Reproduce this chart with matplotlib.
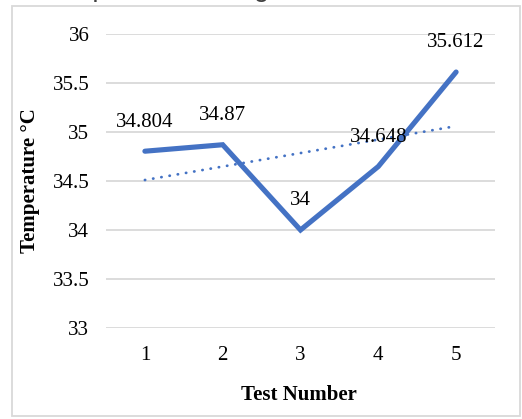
import matplotlib.pyplot as plt
from matplotlib.patches import Rectangle

# readings per test
tests = [1, 2, 3, 4, 5]
temps = [34.804, 34.87, 34.0, 34.648, 35.612]
# linear trendline end points as drawn in the chart
trend_x = [1, 5]
trend_y = [34.51, 35.06]

W, H = 522, 419
fig = plt.figure(figsize=(W / 100, H / 100), dpi=100)
serif = "Liberation Serif"
blue = "#4472C4"
fs = 15

ax = fig.add_axes([106 / W, 1 - 328 / H, (495 - 106) / W, (328 - 34) / H])
ax.plot(tests, temps, color=blue, lw=3.7, solid_joinstyle="miter", solid_capstyle="round", zorder=3)
ax.plot(trend_x, trend_y, color=blue, lw=2.0, linestyle=(0, (0.1, 2.9)), dash_capstyle="round", zorder=2)

for x, y in zip(tests, temps):
    ax.annotate(f"{y:g}", (x, y), xytext=(0, 21), textcoords="offset points",
                ha="center", va="center", family=serif, fontsize=fs, color="black", zorder=4)

ax.set_xlim(0.5, 5.5)
ax.set_ylim(33, 36)
ax.set_xticks(tests)
ax.set_yticks([33, 33.5, 34, 34.5, 35, 35.5, 36])
ax.set_yticklabels(["33", "33.5", "34", "34.5", "35", "35.5", "36"])
ax.grid(axis="y", color="#d9d9d9", lw=1.3)
ax.set_axisbelow(True)
for s in ax.spines.values():
    s.set_visible(False)
ax.tick_params(length=0, labelsize=fs, colors="black")
ax.tick_params(axis="y", pad=12)
ax.tick_params(axis="x", pad=13)
for lab in ax.get_xticklabels() + ax.get_yticklabels():
    lab.set_family(serif)

fig.text(299 / W, 1 - 395 / H, "Test Number", ha="center", va="center",
         family=serif, fontsize=fs, fontweight="bold")
fig.text(30 / W, 1 - 181 / H, "Temperature °C", ha="center", va="center", rotation=90,
         family=serif, fontsize=fs, fontweight="bold")

# chart title, mostly cut off above the picture
title = fig.text(40 / W, 1 + 4 / H, "Temperature Range Across All Tests", ha="left", va="baseline",
                 family="Liberation Sans", fontsize=20, color="#404040")

fig.patches.append(Rectangle((12 / W, 1 - 416 / H), (520 - 12) / W, (416 - 6) / H,
                             transform=fig.transFigure, fill=False, ec="#d9d9d9", lw=1.3))

fig.savefig("out.png", dpi=100)
